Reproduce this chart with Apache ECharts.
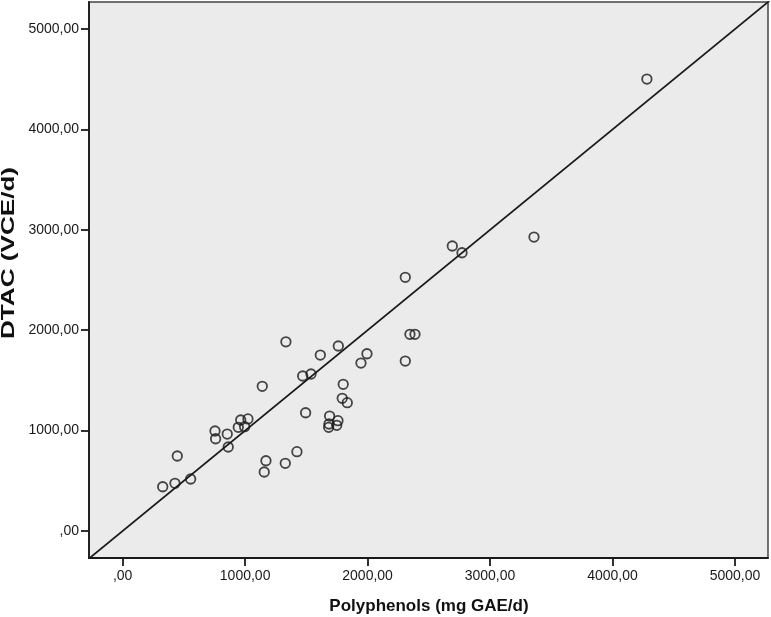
<!DOCTYPE html>
<html>
<head>
<meta charset="utf-8">
<script src="https://cdn.jsdelivr.net/npm/echarts@6/dist/echarts.min.js"></script>
<style>
html,body{margin:0;padding:0;background:#fff;}
#chart{width:771px;height:617px;}
</style>
</head>
<body>
<div id="chart"></div>
<script>
// Data
const polyphenols = [1333,1761,1614,1995,1946,1470,1538,1140,1801,1793,1834,1494,1690,1758,1685,1682,1748,964,1023,944,996,754,759,854,862,446,1170,1328,1423,1156,327,427,555,2692,2771,3359,2308,2346,2387,4281,2308];
const dtac        = [1885,1843,1753,1766,1673,1544,1564,1441,1461,1322,1278,1178,1145,1099,1066,1033,1053,1106,1116,1033,1039,996,919,966,837,747,700,674,790,588,441,475,518,2839,2772,2928,2527,1959,1959,4502,1693];
const tickValues  = [0,1000,2000,3000,4000,5000];
const refLine     = [[-400,-400],[5400,5400]];
const xTitle = 'Polyphenols (mg GAE/d)';
const yTitle = 'DTAC (VCE/d)';

const points = polyphenols.map((v,i)=>[v, dtac[i]]);
const fmt = v => (v === 0 ? '' : String(v)) + ',00';
const font = '"Liberation Sans", Arial, sans-serif';

const chart = echarts.init(document.getElementById('chart'));
chart.setOption({
  animation:false,
  backgroundColor:'#ffffff',
  grid:{left:89,right:3,top:2,bottom:59,show:true,backgroundColor:'#ebebeb',borderColor:'#444',borderWidth:1.5},
  xAxis:{
    type:'value',min:-275,max:5270,
    axisLine:{show:true,onZero:false,lineStyle:{color:'#1a1a1a',width:1.8}},
    axisTick:{show:true,length:8,lineStyle:{color:'#1a1a1a',width:1.8},customValues:tickValues},
    axisLabel:{color:'#1a1a1a',fontSize:14,fontFamily:font,margin:11,formatter:fmt,customValues:tickValues},
    splitLine:{show:false}
  },
  yAxis:{
    type:'value',min:-269,max:5270,
    axisLine:{show:true,onZero:false,lineStyle:{color:'#1a1a1a',width:1.8}},
    axisTick:{show:true,length:8,lineStyle:{color:'#1a1a1a',width:1.8},customValues:tickValues},
    axisLabel:{color:'#1a1a1a',fontSize:14,fontFamily:font,margin:10,formatter:fmt,customValues:tickValues},
    splitLine:{show:false}
  },
  graphic:[
    {type:'text',x:429,y:606,style:{text:xTitle,font:'bold 17px '+font,fill:'#111',textAlign:'center',textVerticalAlign:'middle'}},
    {type:'text',x:9,y:253,rotation:Math.PI/2,scaleX:1.45,style:{text:yTitle,font:'bold 18px '+font,fill:'#111',textAlign:'center',textVerticalAlign:'middle'}}
  ],
  series:[
    {type:'line',data:refLine,showSymbol:false,symbol:'none',clip:true,lineStyle:{color:'#1a1a1a',width:1.7},silent:true,z:1},
    {type:'scatter',data:points,symbol:'circle',symbolSize:9.5,itemStyle:{color:'rgba(0,0,0,0)',borderColor:'#1a1a1a',borderWidth:1.8},z:2}
  ]
});
</script>
</body>
</html>
